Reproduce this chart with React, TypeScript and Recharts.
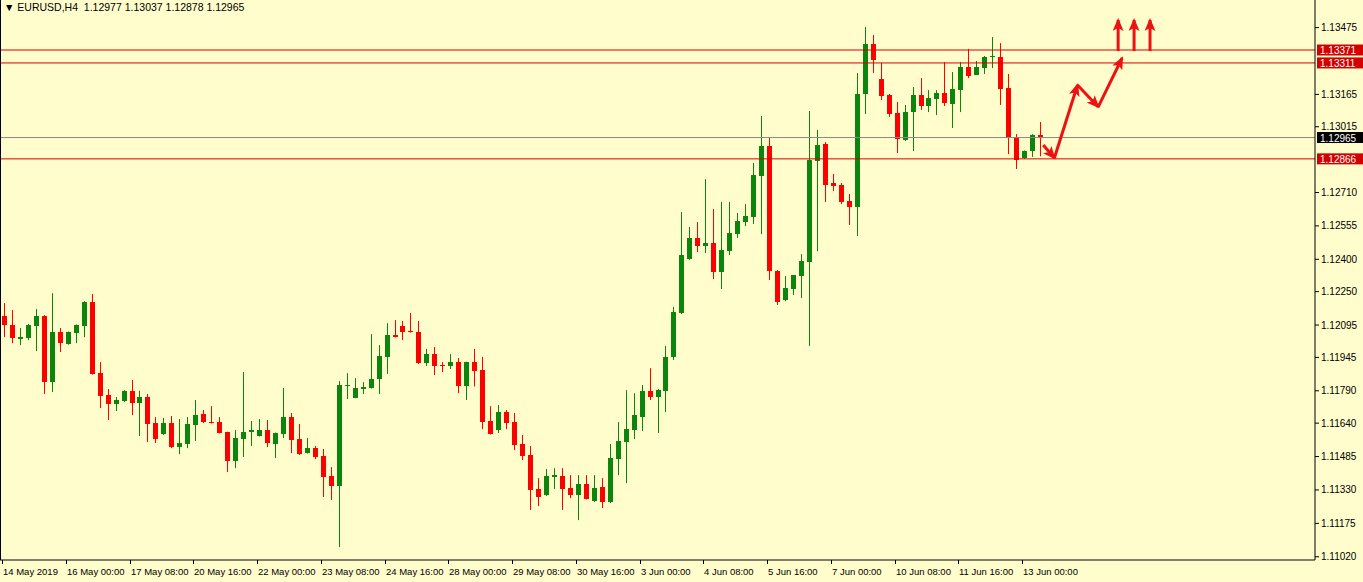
import React from 'react';
import { ComposedChart, Bar, Line, XAxis, YAxis, ReferenceLine } from 'recharts';

// EURUSD H4, 14 May 2019 .. 13 Jun 2019 08:00
const opens = [
  1.12137, 1.12095, 1.12030, 1.12035, 1.12090, 1.12137, 1.11830, 1.12062, 1.12007, 1.12058,
  1.12090, 1.12202, 1.11872, 1.11770, 1.11728, 1.11742, 1.11789, 1.11733, 1.11761, 1.11640,
  1.11589, 1.11640, 1.11529, 1.11543, 1.11631, 1.11682, 1.11645, 1.11645, 1.11598, 1.11464,
  1.11566, 1.11598, 1.11580, 1.11608, 1.11543, 1.11589, 1.11668, 1.11566, 1.11501, 1.11524,
  1.11487, 1.11394, 1.11348, 1.11812, 1.11757, 1.11798, 1.11803, 1.11844, 1.11947, 1.12049,
  1.12090, 1.12067, 1.12062, 1.11919, 1.11960, 1.11909, 1.11905, 1.11923, 1.11812, 1.11923,
  1.11886, 1.11650, 1.11608, 1.11691, 1.11645, 1.11543, 1.11492, 1.11334, 1.11306, 1.11390,
  1.11394, 1.11339, 1.11306, 1.11357, 1.11278, 1.11343, 1.11274, 1.11473, 1.11552, 1.11608,
  1.11668, 1.11789, 1.11761, 1.11789, 1.11947, 1.12151, 1.12401, 1.12499, 1.12462, 1.12475,
  1.12341, 1.12438, 1.12517, 1.12573, 1.12596, 1.12786, 1.12926, 1.12346, 1.12211, 1.12262,
  1.12322, 1.12387, 1.12856, 1.12935, 1.12754, 1.12745, 1.12670, 1.12643, 1.13167, 1.13399,
  1.13236, 1.13162, 1.13079, 1.12953, 1.13083, 1.13162, 1.13111, 1.13144, 1.13172, 1.13120,
  1.13185, 1.13292, 1.13253, 1.13287, 1.13339, 1.13339, 1.13195, 1.12967, 1.12870, 1.12902,
  1.12977,
];
const highs = [
  1.12197, 1.12165, 1.12081, 1.12100, 1.12169, 1.12141, 1.12243, 1.12081, 1.12065, 1.12098,
  1.12206, 1.12239, 1.11923, 1.11798, 1.11761, 1.11793, 1.11840, 1.11790, 1.11775, 1.11668,
  1.11664, 1.11673, 1.11659, 1.11668, 1.11747, 1.11701, 1.11719, 1.11668, 1.11600, 1.11608,
  1.11877, 1.11650, 1.11659, 1.11654, 1.11596, 1.11803, 1.11687, 1.11636, 1.11571, 1.11534,
  1.11520, 1.11436, 1.11835, 1.11872, 1.11849, 1.11830, 1.12053, 1.12002, 1.12104, 1.12118,
  1.12114, 1.12151, 1.12114, 1.11984, 1.11993, 1.11923, 1.11960, 1.11942, 1.11925, 1.11984,
  1.11947, 1.11719, 1.11724, 1.11701, 1.11687, 1.11585, 1.11534, 1.11385, 1.11427, 1.11431,
  1.11431, 1.11399, 1.11399, 1.11399, 1.11399, 1.11385, 1.11543, 1.11645, 1.11793, 1.11779,
  1.11817, 1.11895, 1.11798, 1.11998, 1.12179, 1.12619, 1.12550, 1.12573, 1.12772, 1.12633,
  1.12666, 1.12666, 1.12615, 1.12656, 1.12847, 1.13065, 1.12963, 1.12350, 1.12322, 1.12327,
  1.12424, 1.13088, 1.13000, 1.12944, 1.12796, 1.12754, 1.12703, 1.13264, 1.13478, 1.13441,
  1.13311, 1.13167, 1.13130, 1.13116, 1.13199, 1.13241, 1.13185, 1.13185, 1.13315, 1.13269,
  1.13315, 1.13376, 1.13320, 1.13343, 1.13431, 1.13403, 1.13260, 1.12981, 1.12905, 1.12981,
  1.13037,
];
const lows = [
  1.12039, 1.12011, 1.12002, 1.12025, 1.11974, 1.11775, 1.11784, 1.11970, 1.12004, 1.12011,
  1.12039, 1.11865, 1.11710, 1.11654, 1.11696, 1.11738, 1.11677, 1.11580, 1.11552, 1.11548,
  1.11585, 1.11524, 1.11496, 1.11524, 1.11557, 1.11640, 1.11638, 1.11592, 1.11413, 1.11431,
  1.11483, 1.11534, 1.11578, 1.11529, 1.11478, 1.11571, 1.11501, 1.11492, 1.11499, 1.11473,
  1.11297, 1.11283, 1.11065, 1.11752, 1.11756, 1.11775, 1.11800, 1.11775, 1.11868, 1.12037,
  1.12025, 1.12060, 1.11914, 1.11905, 1.11863, 1.11877, 1.11891, 1.11779, 1.11747, 1.11810,
  1.11612, 1.11587, 1.11594, 1.11612, 1.11515, 1.11469, 1.11237, 1.11255, 1.11302, 1.11334,
  1.11237, 1.11292, 1.11190, 1.11286, 1.11274, 1.11246, 1.11269, 1.11399, 1.11362, 1.11566,
  1.11603, 1.11747, 1.11594, 1.11691, 1.11933, 1.12146, 1.12398, 1.12434, 1.12429, 1.12308,
  1.12262, 1.12420, 1.12499, 1.12554, 1.12564, 1.12517, 1.12304, 1.12188, 1.12206, 1.12234,
  1.12220, 1.11998, 1.12438, 1.12666, 1.12717, 1.12656, 1.12559, 1.12508, 1.13074, 1.13264,
  1.13139, 1.13060, 1.12893, 1.12949, 1.12902, 1.13093, 1.13083, 1.13069, 1.13111, 1.13009,
  1.13083, 1.13241, 1.13255, 1.13260, 1.13287, 1.13116, 1.12888, 1.12819, 1.12866, 1.12875,
  1.12878,
];
const closes = [
  1.12095, 1.12035, 1.12039, 1.12095, 1.12137, 1.11830, 1.12062, 1.12011, 1.12062, 1.12095,
  1.12202, 1.11868, 1.11766, 1.11728, 1.11747, 1.11789, 1.11733, 1.11761, 1.11636, 1.11566,
  1.11640, 1.11529, 1.11548, 1.11636, 1.11677, 1.11645, 1.11640, 1.11594, 1.11464, 1.11571,
  1.11598, 1.11608, 1.11608, 1.11548, 1.11594, 1.11668, 1.11561, 1.11496, 1.11524, 1.11483,
  1.11390, 1.11348, 1.11817, 1.11817, 1.11803, 1.11807, 1.11844, 1.11951, 1.12049, 1.12039,
  1.12062, 1.12062, 1.11919, 1.11960, 1.11905, 1.11905, 1.11923, 1.11812, 1.11923, 1.11882,
  1.11645, 1.11589, 1.11691, 1.11640, 1.11538, 1.11487, 1.11329, 1.11297, 1.11394, 1.11399,
  1.11334, 1.11306, 1.11357, 1.11288, 1.11339, 1.11274, 1.11478, 1.11557, 1.11612, 1.11677,
  1.11789, 1.11761, 1.11793, 1.11947, 1.12155, 1.12420, 1.12499, 1.12462, 1.12475, 1.12341,
  1.12443, 1.12522, 1.12578, 1.12601, 1.12791, 1.12926, 1.12346, 1.12202, 1.12267, 1.12325,
  1.12392, 1.12861, 1.12930, 1.12745, 1.12740, 1.12666, 1.12643, 1.13167, 1.13399, 1.13325,
  1.13158, 1.13074, 1.12958, 1.13083, 1.13162, 1.13111, 1.13148, 1.13172, 1.13125, 1.13190,
  1.13292, 1.13250, 1.13292, 1.13339, 1.13343, 1.13190, 1.12963, 1.12861, 1.12902, 1.12977,
  1.12965,
];

// bar index -> time label shown under the chart
const timeLabels: [number, string][] = [
  [0, '14 May 2019'], [8, '16 May 00:00'], [16, '17 May 08:00'], [24, '20 May 16:00'],
  [32, '22 May 00:00'], [40, '23 May 08:00'], [48, '24 May 16:00'], [56, '28 May 00:00'],
  [64, '29 May 08:00'], [72, '30 May 16:00'], [80, '3 Jun 00:00'], [88, '4 Jun 08:00'],
  [96, '5 Jun 16:00'], [104, '7 Jun 00:00'], [112, '10 Jun 08:00'], [120, '11 Jun 16:00'],
  [128, '13 Jun 00:00'],
];

const priceTicks = [
  1.13475, 1.13165, 1.13015, 1.1271, 1.12555, 1.124, 1.1225, 1.12095, 1.11945,
  1.1179, 1.1164, 1.11485, 1.1133, 1.11175, 1.1102,
];

const levels = [1.13371, 1.13311, 1.12866];
const bid = 1.12965;

// hand-drawn forecast arrows (bar index, price)
const zigzag = [
  { x: 130.4, y: 1.1293 },
  { x: 131.8, y: 1.1287 },
  { x: 134.7, y: 1.13209 },
  { x: 137.3, y: 1.13107 },
  { x: 140.3, y: 1.13334 },
];
const upArrowsX = [139.8, 141.8, 143.8];
const upArrowFrom = 1.13366;
const upArrowTo = 1.1351;

const SLOTS = 165;
const BG = '#fffdcc';
const GREEN = '#0b850b';
const RED = '#ff0000';
const LEVEL = '#d40000';
const ARROW = '#ee1111';
const FONT = "'Liberation Sans', Arial, sans-serif";

const data = Array.from({ length: SLOTS }, (_, i) =>
  i < opens.length
    ? { i, o: opens[i], h: highs[i], l: lows[i], c: closes[i], range: [lows[i], highs[i]] }
    : { i }
);

const segments = [
  ...zigzag.slice(1).map((p, k) => [zigzag[k], p]),
  ...upArrowsX.map(x => [{ x, y: upArrowFrom }, { x, y: upArrowTo }]),
];

const labelOf = new Map(timeLabels);

const Candle = (props: any) => {
  const { x, y, width, height, payload } = props;
  if (!payload || payload.o == null) return <g />;
  const { o, h, l, c } = payload;
  const top = Math.min(y, y + height);
  const hh = Math.abs(height);
  const cx = Math.round(x + width / 2) + 0.5;
  const span = h - l || 1e-9;
  const py = (p: number) => top + ((h - p) / span) * hh;
  const color = c >= o ? GREEN : RED;
  const bt = Math.round(py(Math.max(o, c)));
  const bb = Math.round(py(Math.min(o, c)));
  return (
    <g>
      <line x1={cx} x2={cx} y1={top} y2={top + hh} stroke={color} strokeWidth={1} />
      <rect x={cx - 2.5} y={bt} width={5} height={Math.max(1, bb - bt)} fill={color} />
    </g>
  );
};

const TimeTick = (props: any) => {
  const { x, y, payload } = props;
  const px = Math.round(x) - 1.5;
  return (
    <g>
      <line x1={px} x2={px} y1={y - 8} y2={y - 4} stroke="#000" />
      <text x={px + 0.5} y={y + 7} fontSize={9.5} fontFamily={FONT} fill="#000">
        {labelOf.get(payload.value)}
      </text>
    </g>
  );
};

const PriceTag = ({ viewBox, value, bg }: any) => {
  const { x, y, width } = viewBox;
  const lx = x + width + 2;
  return (
    <g>
      <rect x={lx} y={y - 5.5} width={46} height={11} fill={bg} />
      <text x={lx + 3} y={y + 4} fontSize={10} fontFamily={FONT} fill="#fff">
        {value.toFixed(5)}
      </text>
    </g>
  );
};

export default function App() {
  return (
    <div style={{ position: 'fixed', left: 0, top: 0, width: 1363, height: 582, background: BG }}>
      <ComposedChart
        width={1363}
        height={582}
        data={data}
        margin={{ top: 0, right: 0, left: 0, bottom: 0 }}
        barCategoryGap={0}
      >
        <defs>
          <marker id="ah" markerUnits="userSpaceOnUse" markerWidth={13} markerHeight={11} refX={11} refY={5.5} orient="auto">
            <path d="M0,0 L13,5.5 L0,11 L3,5.5 z" fill={ARROW} />
          </marker>
        </defs>
        <XAxis
          dataKey="i"
          type="category"
          ticks={timeLabels.map(t => t[0])}
          interval={0}
          tick={<TimeTick />}
          tickLine={false}
          axisLine={{ stroke: '#000' }}
          height={22}
        />
        <XAxis xAxisId="n" type="number" dataKey="x" domain={[-0.5, SLOTS - 0.5]} allowDataOverflow hide />
        <YAxis
          orientation="right"
          type="number"
          domain={[1.11005, 1.13603]}
          allowDataOverflow
          ticks={priceTicks}
          interval={0}
          tickFormatter={(v: number) => v.toFixed(5)}
          tick={{ fontSize: 10, fill: '#000', fontFamily: FONT }}
          tickSize={4}
          tickMargin={2}
          axisLine={{ stroke: '#000' }}
          tickLine={{ stroke: '#000' }}
          width={48}
        />
        {levels.map(v => (
          <ReferenceLine key={v} y={v} stroke={LEVEL} strokeWidth={1} label={<PriceTag value={v} bg={LEVEL} />} />
        ))}
        <ReferenceLine y={bid} stroke="#8a8a8a" strokeWidth={1} label={<PriceTag value={bid} bg="#000" />} />
        <Bar dataKey="range" shape={<Candle />} isAnimationActive={false} />
        {segments.map((seg, k) => (
          <Line
            key={k}
            xAxisId="n"
            data={seg}
            dataKey="y"
            type="linear"
            stroke={ARROW}
            strokeWidth={3}
            dot={false}
            activeDot={false}
            isAnimationActive={false}
            markerEnd="url(#ah)"
          />
        ))}
      </ComposedChart>
      <div style={{ position: 'absolute', left: 0, top: 0, width: 1, height: 560, background: '#000' }} />
      <div
        style={{
          position: 'absolute', left: 4, top: 1, fontSize: 10.5, fontFamily: FONT, color: '#000',
          whiteSpace: 'pre', lineHeight: '12px',
        }}
      >
        {'\u25BC EURUSD,H4  1.12977 1.13037 1.12878 1.12965'}
      </div>
    </div>
  );
}
